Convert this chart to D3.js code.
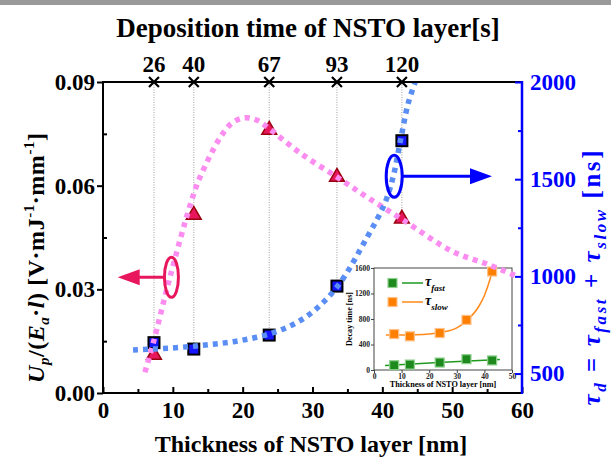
<!DOCTYPE html>
<html>
<head>
<meta charset="utf-8">
<script src="https://cdn.jsdelivr.net/npm/d3@7"></script>
<style>
    body { margin: 0; background: #fff; }
    text { font-family: "Liberation Serif", "Times New Roman", serif; font-weight: bold; }
</style>
</head>
<body>
<svg id="chart" width="611" height="460"></svg>
<script>
    // samples: thickness [nm] and deposition time [s]
    var thickness = [7.3, 13.0, 23.8, 33.5, 42.8]
    var depTime = [26, 40, 67, 93, 120]
    var photoResp = [0.011, 0.0515, 0.0761, 0.0625, 0.0504]
    var decayTotal = [659, 626, 698, 950, 1698]
    var tauFast = [75, 85, 117, 170, 150]
    var tauSlow = [564, 528, 580, 786, 1545]

    // fitted curves
    var respFitX = [6.0, 7.2, 9.6, 12.5, 13.9, 16.8, 18.4, 20.1, 22.0, 23.8, 28.2, 33.5, 37.8, 42.8, 50, 55, 59.5]
    var respFitY = [0.006, 0.0145, 0.0336, 0.0545, 0.0625, 0.074, 0.078, 0.0796, 0.079, 0.0765, 0.0695, 0.0625, 0.0567, 0.0503, 0.041, 0.0373, 0.0336]
    var decayFitX = [4.3, 10, 15, 20, 25, 29.2, 33.5, 37.8, 40.4, 41.6, 42.6, 43.7, 44.7]
    var decayFitY = [621, 632, 648, 672, 718, 795, 945, 1200, 1380, 1520, 1700, 1890, 2000]
    var slowFitX = [4.3, 10, 15, 20, 25, 30, 34, 38, 40, 42, 43.2]
    var slowFitY = [550, 548, 552, 565, 595, 660, 790, 1000, 1170, 1420, 1620]
    var fastFitX = [4, 25, 45.6]
    var fastFitY = [70, 120, 165]

    var xTicks = [0, 10, 20, 30, 40, 50, 60]
    var xMinor = [5, 15, 25, 35, 45, 55]
    var leftTicks = [0, 0.03, 0.06, 0.09]
    var leftMinor = [0.015, 0.045, 0.075]
    var rightTicks = [500, 1000, 1500, 2000]
    var rightMinor = [750, 1250, 1750]
    var insetXTicks = [0, 10, 20, 30, 40, 50]
    var insetYTicks = [0, 400, 800, 1200, 1600]

    var pink = '#fb8cf0', blueFit = '#5b8ef5', crimson = '#e8175d', blue = '#0000ff'

    var svg = d3.select('#chart')
    svg.append('rect').attr('x', 0).attr('y', 0).attr('width', 611).attr('height', 5).attr('fill', '#9a9a9a')

    var x = d3.scaleLinear().domain([0, 60]).range([103, 522])
    var yL = d3.scaleLinear().domain([0, 0.09]).range([393, 82])
    var yR = d3.scaleLinear().domain([400, 2000]).range([393, 82])

    // ---- inset ----
    var ix = d3.scaleLinear().domain([0, 50]).range([374, 512])
    var iy = d3.scaleLinear().domain([0, 1600]).range([370, 268])
    var inset = svg.append('g')
    inset.append('rect')
        .attr('x', ix(0)).attr('y', iy(1600))
        .attr('width', ix(50) - ix(0)).attr('height', iy(0) - iy(1600))
        .attr('fill', '#fff').attr('stroke', '#444').attr('stroke-width', 1)

    var ixAxis = inset.append('g').attr('transform', 'translate(0,' + iy(0) + ')')
        .call(d3.axisBottom(ix).tickValues(insetXTicks).tickSize(3).tickSizeOuter(0).tickPadding(1).tickFormat(d3.format('d')))
    var iyAxis = inset.append('g').attr('transform', 'translate(' + ix(0) + ',0)')
        .call(d3.axisLeft(iy).tickValues(insetYTicks).tickSize(3).tickSizeOuter(0).tickPadding(1).tickFormat(d3.format('d')))
    ;[ixAxis, iyAxis].forEach(function(a) {
        a.select('.domain').remove()
        a.selectAll('line').attr('stroke', '#444')
        a.selectAll('text').attr('font-size', 7.5).attr('fill', '#222')
            .style('font-family', '"Liberation Serif", serif')
    })
    inset.append('text').attr('x', (ix(0) + ix(50)) / 2).attr('y', 387)
        .attr('text-anchor', 'middle').attr('font-size', 8.2).text('Thickness of NSTO layer [nm]')
    inset.append('text').attr('transform', 'translate(352,' + ((iy(0) + iy(1600)) / 2) + ') rotate(-90)')
        .attr('text-anchor', 'middle').attr('font-size', 8.2).text('Decay time [ns]')

    var iline = d3.line().curve(d3.curveMonotoneX)
    inset.append('path')
        .attr('d', iline(fastFitX.map(function(d, i) { return [ix(d), iy(fastFitY[i])] })))
        .attr('fill', 'none').attr('stroke', '#1f9a1f').attr('stroke-width', 1.5)
    inset.append('path')
        .attr('d', iline(slowFitX.map(function(d, i) { return [ix(d), iy(slowFitY[i])] })))
        .attr('fill', 'none').attr('stroke', '#ff8a1a').attr('stroke-width', 1.5)

    function insetSquares(vals, fill, light) {
        inset.selectAll(null).data(vals).enter().append('rect')
            .attr('x', function(d, i) { return ix(thickness[i]) - 4.5 })
            .attr('y', function(d) { return iy(d) - 4.5 })
            .attr('width', 9).attr('height', 9)
            .attr('fill', fill).attr('stroke', light).attr('stroke-width', 1.2)
    }
    insetSquares(tauFast, '#1e8a1e', '#8fd08f')
    insetSquares(tauSlow, '#ff8000', '#ffc08a')

    // legend
    var lg = [{ c: '#1e8a1e', l: '#8fd08f', line: '#1f9a1f', sub: 'fast', y: 283 },
              { c: '#ff8000', l: '#ffc08a', line: '#ff8a1a', sub: 'slow', y: 302 }]
    lg.forEach(function(d) {
        inset.append('rect').attr('x', 388).attr('y', d.y - 4.5).attr('width', 9).attr('height', 9)
            .attr('fill', d.c).attr('stroke', d.l).attr('stroke-width', 1.2)
        inset.append('line').attr('x1', 402).attr('x2', 423).attr('y1', d.y).attr('y2', d.y)
            .attr('stroke', d.line).attr('stroke-width', 1.5)
        var t = inset.append('text').attr('x', 425).attr('y', d.y + 3).attr('font-size', 14)
            .attr('font-style', 'italic').attr('font-weight', 'normal')
        t.append('tspan').text('τ')
        t.append('tspan').attr('dy', 5).attr('font-size', 9).text(d.sub)
    })

    // ---- guide lines for each sample ----
    svg.append('g').selectAll('line').data(thickness).enter().append('line')
        .attr('x1', function(d) { return x(d) }).attr('x2', function(d) { return x(d) })
        .attr('y1', yL(0.09))
        .attr('y2', function(d, i) { return Math.max(yL(photoResp[i]), yR(decayTotal[i])) })
        .attr('stroke', '#888').attr('stroke-width', 0.8).attr('stroke-dasharray', '1,1.5')

    // ---- markers ----
    svg.append('g').selectAll('path').data(photoResp).enter().append('path')
        .attr('d', d3.symbol(d3.symbolTriangle, 95))
        .attr('transform', function(d, i) { return 'translate(' + x(thickness[i]) + ',' + yL(d) + ')' })
        .attr('fill', crimson).attr('stroke', '#9a0010').attr('stroke-width', 1.5)
    svg.append('g').selectAll('rect').data(decayTotal).enter().append('rect')
        .attr('x', function(d, i) { return x(thickness[i]) - 5.5 })
        .attr('y', function(d) { return yR(d) - 5.5 })
        .attr('width', 11).attr('height', 11)
        .attr('fill', '#1515ff').attr('stroke', '#000').attr('stroke-width', 2)

    // ---- fitted dotted curves ----
    var fitLine = d3.line().curve(d3.curveCatmullRom)
    svg.append('path')
        .attr('d', fitLine(respFitX.map(function(d, i) { return [x(d), yL(respFitY[i])] })))
        .attr('fill', 'none').attr('stroke', pink).attr('stroke-width', 5.5).attr('stroke-dasharray', '5,5')
    svg.append('path')
        .attr('d', fitLine(decayFitX.map(function(d, i) { return [x(d), yR(decayFitY[i])] })))
        .attr('fill', 'none').attr('stroke', blueFit).attr('stroke-width', 5.5).attr('stroke-dasharray', '5,5')

    // ---- ellipses + arrows showing which axis ----
    function arrow(cx, cy, rx, ry, tipX, color) {
        var g = svg.append('g')
        var dir = tipX < cx ? -1 : 1
        g.append('ellipse').attr('cx', cx).attr('cy', cy).attr('rx', rx).attr('ry', ry)
            .attr('fill', 'none').attr('stroke', color).attr('stroke-width', 3)
        g.append('line').attr('x1', cx + dir * rx).attr('x2', tipX - dir * 18).attr('y1', cy).attr('y2', cy)
            .attr('stroke', color).attr('stroke-width', 3)
        g.append('path')
            .attr('d', 'M' + tipX + ',' + cy + 'L' + (tipX - dir * 22) + ',' + (cy - 8) + 'L' + (tipX - dir * 22) + ',' + (cy + 8) + 'Z')
            .attr('fill', color)
    }
    arrow(x(9.8), yL(0.0335), 7, 20, x(2.1), crimson)
    arrow(x(41.7), yR(1515), 8, 21, x(55.7), blue)

    // ---- axes ----
    function styleAxis(a, color) {
        a.select('.domain').remove()
        a.selectAll('line').attr('stroke', color).attr('stroke-width', 2)
        a.selectAll('text').attr('fill', color).attr('font-size', 23)
            .style('font-family', '"Liberation Serif", serif').style('font-weight', 'bold')
    }
    var bAxis = svg.append('g').attr('transform', 'translate(0,393)')
        .call(d3.axisBottom(x).tickValues(xTicks).tickSize(-6).tickSizeOuter(0).tickPadding(9))
    styleAxis(bAxis, '#000')
    var bMinor = svg.append('g').attr('transform', 'translate(0,393)')
        .call(d3.axisBottom(x).tickValues(xMinor).tickSize(-4).tickSizeOuter(0).tickFormat(''))
    styleAxis(bMinor, '#000')

    var lAxis = svg.append('g').attr('transform', 'translate(103,0)')
        .call(d3.axisLeft(yL).tickValues(leftTicks).tickSize(6).tickSizeOuter(0).tickPadding(2).tickFormat(d3.format('.2f')))
    styleAxis(lAxis, '#000')
    var lMinor = svg.append('g').attr('transform', 'translate(103,0)')
        .call(d3.axisRight(yL).tickValues(leftMinor).tickSize(4).tickSizeOuter(0).tickFormat(''))
    styleAxis(lMinor, '#000')

    svg.append('line').attr('x1', 103).attr('x2', 522).attr('y1', 82).attr('y2', 82).attr('stroke', '#000').attr('stroke-width', 2)
    svg.append('line').attr('x1', 102).attr('x2', 522).attr('y1', 393).attr('y2', 393).attr('stroke', '#000').attr('stroke-width', 2)
    svg.append('line').attr('x1', 103).attr('x2', 103).attr('y1', 81).attr('y2', 394).attr('stroke', '#000').attr('stroke-width', 2)

    var rAxis = svg.append('g').attr('transform', 'translate(522,0)')
        .call(d3.axisRight(yR).tickValues(rightTicks).tickSize(-7).tickSizeOuter(0).tickPadding(8).tickFormat(d3.format('d')))
    styleAxis(rAxis, blue)
    var rMinor = svg.append('g').attr('transform', 'translate(522,0)')
        .call(d3.axisLeft(yR).tickValues(rightMinor).tickSize(4).tickSizeOuter(0).tickFormat(''))
    styleAxis(rMinor, blue)
    svg.append('line').attr('x1', 522).attr('x2', 522).attr('y1', 81).attr('y2', 394).attr('stroke', blue).attr('stroke-width', 2.5)

    // top axis: deposition time marks
    var topAxis = svg.append('g')
    topAxis.selectAll('path').data(depTime).enter().append('path')
        .attr('d', function(d, i) {
            var cx = x(thickness[i]), s = 5
            return 'M' + (cx - s) + ',' + (82 - s) + 'L' + (cx + s) + ',' + (82 + s) +
                   'M' + (cx - s) + ',' + (82 + s) + 'L' + (cx + s) + ',' + (82 - s)
        })
        .attr('stroke', '#000').attr('stroke-width', 2.2)
    topAxis.selectAll('text').data(depTime).enter().append('text')
        .attr('x', function(d, i) { return x(thickness[i]) })
        .attr('y', 72).attr('text-anchor', 'middle').attr('font-size', 23)
        .text(function(d) { return d })

    // titles
    svg.append('text').attr('x', 308).attr('y', 37).attr('text-anchor', 'middle').attr('font-size', 27)
        .text('Deposition time of NSTO layer[s]')
    svg.append('text').attr('x', 311).attr('y', 452).attr('text-anchor', 'middle').attr('font-size', 24)
        .text('Thickness of NSTO layer [nm]')

    var ly = svg.append('text').attr('transform', 'translate(44,258) rotate(-90)')
        .attr('text-anchor', 'middle').attr('font-size', 24)
        .attr('textLength', 250).attr('lengthAdjust', 'spacing')
    ly.append('tspan').attr('font-style', 'italic').text('U')
    ly.append('tspan').attr('font-style', 'italic').attr('font-size', 15).attr('dy', 5).text('p')
    ly.append('tspan').attr('dy', -5).text('/(')
    ly.append('tspan').attr('font-style', 'italic').text('E')
    ly.append('tspan').attr('font-style', 'italic').attr('font-size', 15).attr('dy', 5).text('a')
    ly.append('tspan').attr('dy', -5).text('·')
    ly.append('tspan').attr('font-style', 'italic').text('l')
    ly.append('tspan').text(') [V·mJ')
    ly.append('tspan').attr('font-size', 15).attr('dy', -10).text('-1')
    ly.append('tspan').attr('dy', 10).text('·mm')
    ly.append('tspan').attr('font-size', 15).attr('dy', -10).text('-1')
    ly.append('tspan').attr('dy', 10).text(']')

    var ry = svg.append('text').attr('transform', 'translate(600,278) rotate(-90)')
        .attr('text-anchor', 'middle').attr('font-size', 25).attr('fill', blue)
        .attr('textLength', 255).attr('lengthAdjust', 'spacing')
    ry.append('tspan').attr('font-style', 'italic').text('τ')
    ry.append('tspan').attr('font-style', 'italic').attr('font-size', 17).attr('dy', 6).text('d')
    ry.append('tspan').attr('dy', -6).text(' = ')
    ry.append('tspan').attr('font-style', 'italic').text('τ')
    ry.append('tspan').attr('font-style', 'italic').attr('font-size', 17).attr('dy', 6).text('fast')
    ry.append('tspan').attr('dy', -6).text(' + ')
    ry.append('tspan').attr('font-style', 'italic').text('τ')
    ry.append('tspan').attr('font-style', 'italic').attr('font-size', 17).attr('dy', 6).text('slow')
    ry.append('tspan').attr('dy', -6).text(' [ns]')
</script>
</body>
</html>
